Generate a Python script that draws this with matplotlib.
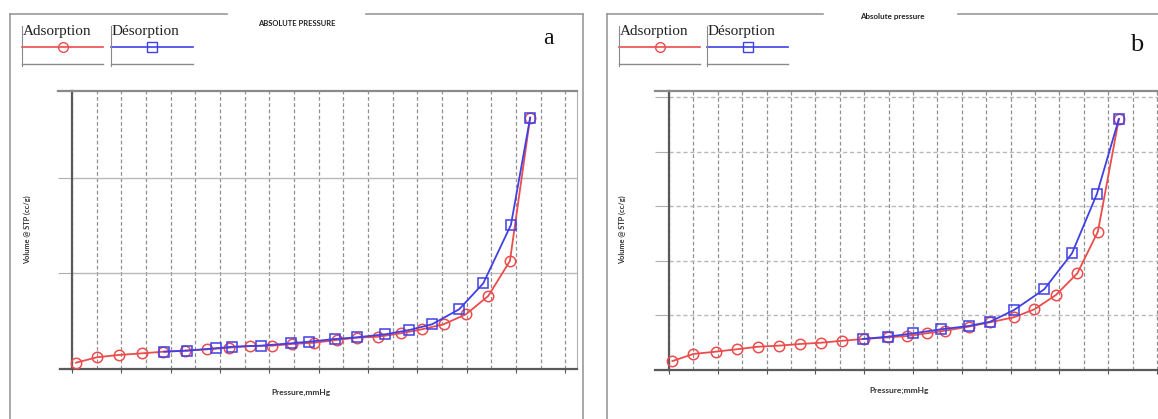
import numpy as np
import matplotlib
matplotlib.use("Agg")
import matplotlib.pyplot as plt
from matplotlib.lines import Line2D

# panel a: relative pressure (grid step 0.05) and volume (arbitrary units)
a_ads_x = [0.008, 0.051, 0.095, 0.142, 0.185, 0.229, 0.274, 0.318, 0.361, 0.406, 0.446,
           0.491, 0.537, 0.578, 0.621, 0.667, 0.710, 0.754, 0.799, 0.844, 0.888, 0.929]
a_ads_y = [6.6, 12.3, 14.7, 16.4, 18.1, 19.2, 20.6, 22.3, 24.1, 24.4, 26.2,
           27.5, 30.4, 32.8, 33.8, 37.4, 41.6, 46.9, 57.3, 76.4, 113.1, 263.1]
a_des_x = [0.187, 0.233, 0.292, 0.325, 0.383, 0.444, 0.481, 0.533, 0.578, 0.635, 0.684,
           0.730, 0.785, 0.834, 0.890, 0.929]
a_des_y = [18.1, 19.2, 21.7, 23.3, 24.4, 26.9, 28.6, 31.4, 33.2, 36.3, 40.8,
           46.8, 62.5, 89.7, 150.8, 263.1]

# panel b
b_ads_x = [0.007, 0.050, 0.096, 0.139, 0.182, 0.225, 0.268, 0.312, 0.355, 0.399, 0.449,
           0.488, 0.528, 0.566, 0.614, 0.658, 0.707, 0.749, 0.793, 0.837, 0.879, 0.922]
b_ads_y = [8.2, 14.7, 16.8, 19.0, 21.3, 22.3, 23.8, 25.0, 26.8, 28.4, 29.9,
           31.1, 33.6, 36.0, 39.7, 43.7, 48.3, 55.6, 68.7, 88.6, 126.7, 229.9]
b_des_x = [0.397, 0.448, 0.501, 0.558, 0.614, 0.658, 0.707, 0.769, 0.826, 0.877, 0.922]
b_des_y = [28.4, 30.5, 33.6, 37.3, 40.3, 44.2, 54.9, 73.9, 106.9, 161.2, 229.9]

titles = ["ABSOLUTE PRESSURE", "Absolute pressure"]
xlabels = ["Pressure,mmHg", "Pressure;mmHg"]
ylabel = "Volume @ STP (cc/g)"
legend_labels = ["Adsorption", "Désorption"]
panel_letters = ["a", "b"]

RED = "#ec4c4c"
BLUE = "#4040e4"
FRAME = "#9a9a9a"
W, H = 1158, 419

fig = plt.figure(figsize=(W / 100, H / 100), dpi=100)


def fx(x):
    return x / W


def fy(y):
    return 1 - y / H


def fig_line(xs, ys, color=FRAME, lw=1.2, ls="-"):
    fig.add_artist(Line2D([fx(v) for v in xs], [fy(v) for v in ys],
                          color=color, lw=lw, ls=ls, transform=fig.transFigure))


def make_axes(left, right, top, bottom, xmax, ymax, yticks, ygrid_style):
    ax = fig.add_axes([fx(left), fy(bottom), (right - left) / W, (bottom - top) / H])
    ax.set_xticks(np.arange(0, 1.2, 0.1))
    ax.set_xticks(np.arange(0.05, 1.2, 0.05), minor=True)
    ax.set_yticks(yticks)
    # limits after the ticks, otherwise the ticks widen the view
    ax.set_xlim(0, xmax)
    ax.set_ylim(0, ymax)
    ax.tick_params(axis="x", which="major", direction="out", length=3, color="#555555",
                   labelbottom=False)
    ax.tick_params(axis="x", which="minor", length=0)
    ax.tick_params(axis="y", direction="out", length=10, color="#b0b0b0", labelleft=False)
    ax.grid(True, axis="x", which="both", color="#909090", ls=(0, (3, 2)), lw=0.9)
    ax.grid(True, axis="y", which="major", color="#b8b8b8", ls=ygrid_style, lw=1.0)
    ax.set_axisbelow(True)
    for s in ["left", "bottom"]:
        ax.spines[s].set_color("#5a5a5a")
        ax.spines[s].set_linewidth(1.6)
    ax.spines["top"].set_color("#8a8a8a")
    ax.spines["top"].set_linewidth(1.6)
    ax.spines["right"].set_color("#b0b0b0")
    return ax


def draw_series(ax, ax_x, ax_y, de_x, de_y):
    ax.plot(ax_x, ax_y, color=RED, lw=1.3, marker="o", ms=7.5, mfc="none", mew=1.1,
            clip_on=False, zorder=3)
    ax.plot(de_x, de_y, color=BLUE, lw=1.3, marker="s", ms=7.5, mfc="none", mew=1.1,
            clip_on=False, zorder=4)


# ---------- panel a ----------
ax_a = make_axes(72, 577, 91, 369, 1.024, 291, [0, 100, 200], "-")
draw_series(ax_a, a_ads_x, a_ads_y, a_des_x, a_des_y)
fig_line([58, 72], [91, 91], color="#8a8a8a", lw=1.6)
fig_line([60, 72], [369, 369], color="#5a5a5a", lw=1.6)

# ---------- panel b ----------
ax_b = make_axes(669, 1174, 91, 370, 1.035, 255.5, [0, 50, 100, 150, 200, 250], (0, (3, 2)))
draw_series(ax_b, b_ads_x, b_ads_y, b_des_x, b_des_y)
fig_line([655, 669], [91, 91], color="#8a8a8a", lw=1.6)
fig_line([655, 669], [370, 370], color="#5a5a5a", lw=1.6)

# ---------- frames, titles, labels ----------
frames = [(10, 583, 227, 366), (607, 1180, 823, 958)]
for (l, r, g0, g1) in frames:
    fig_line([l, l], [14, 419])
    fig_line([r, r], [14, 419])
    fig_line([l, g0], [14, 14])
    fig_line([g1, r], [14, 14])

fig.text(fx(297), fy(24), titles[0], ha="center", va="center", fontsize=5.5,
         fontweight="bold", family="Lato", color="#222222")
fig.text(fx(892), fy(16), titles[1], ha="center", va="center", fontsize=5.8,
         fontweight="bold", family="Lato", color="#222222")

fig.text(fx(301), fy(392), xlabels[0], ha="center", va="center", fontsize=6,
         fontweight="bold", family="Lato", color="#333333")
fig.text(fx(899), fy(390), xlabels[1], ha="center", va="center", fontsize=6,
         fontweight="bold", family="Lato", color="#333333")
fig.text(fx(27), fy(230), ylabel, ha="center", va="center", fontsize=5.3, rotation=90,
         fontweight="bold", family="Lato", color="#333333")
fig.text(fx(622), fy(230), ylabel, ha="center", va="center", fontsize=5.3, rotation=90,
         fontweight="bold", family="Lato", color="#333333")

fig.text(fx(548), fy(38), panel_letters[0], ha="center", va="center", fontsize=17,
         family="Liberation Serif", color="#111111")
fig.text(fx(1137), fy(45), panel_letters[1], ha="center", va="center", fontsize=19,
         family="Liberation Serif", color="#111111")

# ---------- legends ----------
legend_pos = [((22, 103), (111, 193)), ((619, 700), (707, 788))]
for (red_span, blue_span) in legend_pos:
    for span, col, mk, lab in [(red_span, RED, "o", legend_labels[0]),
                               (blue_span, BLUE, "s", legend_labels[1])]:
        x0, x1 = span
        fig.text(fx(x0 + 1), fy(32), lab, ha="left", va="center", fontsize=11,
                 family="Liberation Serif", color="#222222")
        fig_line([x0, x1], [47, 47], color=col, lw=1.2)
        fig.add_artist(Line2D([fx((x0 + x1) / 2)], [fy(47)], marker=mk, ms=7, mfc="none",
                              mec=col, mew=1.0, ls="none", transform=fig.transFigure))
        fig_line([x0, x1], [64, 64], color="#8a8a8a", lw=1.0)
        fig_line([x0, x0], [26, 66], color="#8a8a8a", lw=0.8)

fig.savefig("out.png", dpi=100)
